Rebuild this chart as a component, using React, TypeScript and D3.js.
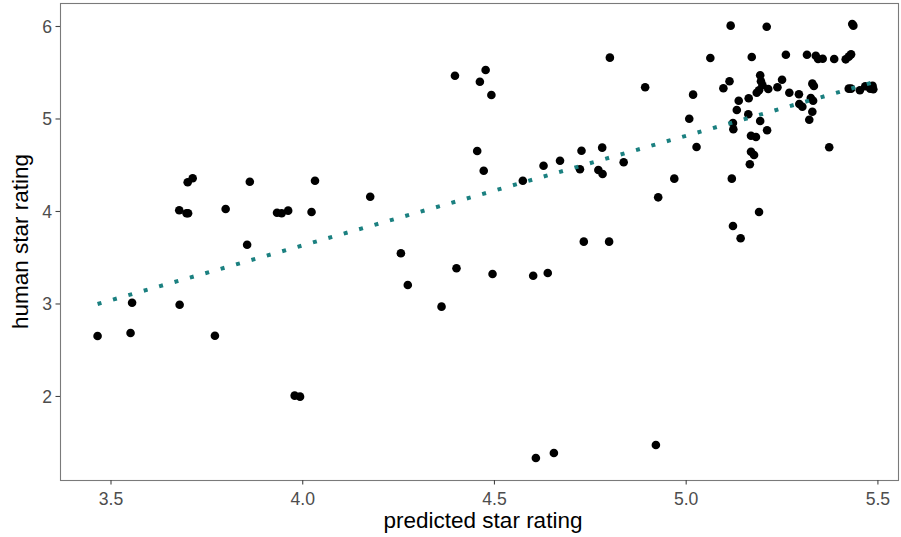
import React from 'react';
import * as d3 from 'd3';

// predicted vs human star ratings
const predicted = [
  3.465, 3.551, 3.555, 3.679, 3.771, 3.678, 3.697, 3.701, 3.700, 3.713,
  3.862, 3.799, 3.933, 3.945, 3.962, 4.023, 4.032, 3.855, 3.979, 3.993,
  4.176, 4.256, 4.274, 4.362, 4.397, 4.462, 4.477, 4.492, 4.455, 4.472,
  4.401, 4.495, 4.601, 4.639, 4.574, 4.628, 4.671, 4.727, 4.723, 4.781,
  4.771, 4.782, 4.837, 4.733, 4.799, 4.801, 4.893, 4.608, 4.655, 4.921,
  4.927, 4.969, 5.119, 5.116, 5.210, 5.433, 5.436, 5.063, 5.171, 5.260,
  5.315, 5.338, 5.344, 5.356, 5.386, 5.416, 5.424, 5.430, 5.018, 5.008,
  5.027, 5.113, 5.097, 5.193, 5.195, 5.199, 5.214, 5.190, 5.184, 5.250,
  5.238, 5.269, 5.294, 5.329, 5.333, 5.325, 5.331, 5.295, 5.303, 5.329,
  5.321, 5.373, 5.424, 5.430, 5.453, 5.467, 5.480, 5.486, 5.488, 5.137,
  5.163, 5.132, 5.162, 5.122, 5.123, 5.193, 5.211, 5.169, 5.182, 5.169,
  5.177, 5.166, 5.190, 5.122, 5.142,
];
const human = [
  2.654, 2.686, 3.014, 2.992, 2.657, 4.013, 3.981, 3.981, 4.316, 4.359,
  4.322, 4.027, 3.987, 3.981, 4.009, 3.995, 4.333, 3.641, 2.009, 1.998,
  4.160, 3.548, 3.205, 2.971, 5.468, 5.403, 5.530, 5.259, 4.654, 4.441,
  3.386, 3.324, 3.306, 3.335, 4.333, 4.495, 4.549, 4.657, 4.456, 4.690,
  4.449, 4.405, 4.532, 3.674, 3.674, 5.663, 5.343, 1.335, 1.389, 1.476,
  4.153, 4.355, 4.355, 6.009, 5.998, 6.027, 6.009, 5.659, 5.670, 5.695,
  5.695, 5.684, 5.649, 5.652, 5.649, 5.645, 5.674, 5.699, 5.263, 5.003,
  4.697, 5.408, 5.332, 5.472, 5.408, 5.364, 5.324, 5.310, 5.284, 5.425,
  5.343, 5.284, 5.267, 5.382, 5.357, 5.227, 5.198, 5.162, 5.133, 5.079,
  4.992, 4.694, 5.328, 5.328, 5.310, 5.354, 5.328, 5.360, 5.321, 5.198,
  5.224, 5.097, 5.051, 4.957, 4.889, 4.978, 4.878, 4.819, 4.805, 4.646,
  4.611, 4.510, 3.995, 3.843, 3.710,
];

// linear fit line ends
const trendX = [3.465, 5.488];
const trendY = [3.0, 5.397];

const xTicks = [3.5, 4.0, 4.5, 5.0, 5.5];
const yTicks = [2, 3, 4, 5, 6];

const W = 901;
const H = 537;
const margin = { top: 3, right: 2, bottom: 57, left: 60 };
const font = '"Liberation Sans", Arial, Helvetica, sans-serif';

const App = () => {
  const x = d3.scaleLinear().domain([3.367, 5.555]).range([margin.left, W - margin.right]);
  const y = d3.scaleLinear().domain([1.097, 6.254]).range([H - margin.bottom, margin.top]);

  const pts = predicted.map((p, i) => ({ p, h: human[i] }));
  const line = d3
    .line<number>()
    .x((d) => x(d))
    .y((_, i) => y(trendY[i]));

  const left = margin.left;
  const right = W - margin.right;
  const top = margin.top;
  const bottom = H - margin.bottom;

  return (
    <svg
      width={W}
      height={H}
      style={{ position: 'absolute', left: 0, top: 0, background: '#fff' }}
      fontFamily={font}
    >
      {/* points */}
      {pts.map((d, i) => (
        <circle key={i} cx={x(d.p)} cy={y(d.h)} r={4.3} fill="#000" />
      ))}

      {/* dotted regression line */}
      <path
        d={line(trendX) || ''}
        fill="none"
        stroke="#1b8080"
        strokeWidth={4}
        strokeDasharray="4 12"
      />

      {/* panel border */}
      <rect
        x={left + 0.5}
        y={top + 0.5}
        width={right - left - 1}
        height={bottom - top}
        fill="none"
        stroke="#7a7a7a"
        strokeWidth={1.1}
      />

      {/* x axis */}
      {xTicks.map((t) => (
        <g key={t}>
          <line x1={x(t)} x2={x(t)} y1={bottom} y2={bottom + 4.5} stroke="#444" strokeWidth={1.1} />
          <text x={x(t)} y={bottom + 25} textAnchor="middle" fontSize={17.6} fill="#4d4d4d">
            {t.toFixed(1)}
          </text>
        </g>
      ))}

      {/* y axis */}
      {yTicks.map((t) => (
        <g key={t}>
          <line x1={left - 4.5} x2={left} y1={y(t)} y2={y(t)} stroke="#444" strokeWidth={1.1} />
          <text x={left - 8} y={y(t) + 6.3} textAnchor="end" fontSize={17.6} fill="#4d4d4d">
            {t}
          </text>
        </g>
      ))}

      <text x={483} y={528} textAnchor="middle" fontSize={22.5} fill="#000">
        predicted star rating
      </text>
      <text
        transform={`translate(28,${(top + bottom) / 2}) rotate(-90)`}
        textAnchor="middle"
        fontSize={22.5}
        fill="#000"
      >
        human star rating
      </text>
    </svg>
  );
};

export default App;
